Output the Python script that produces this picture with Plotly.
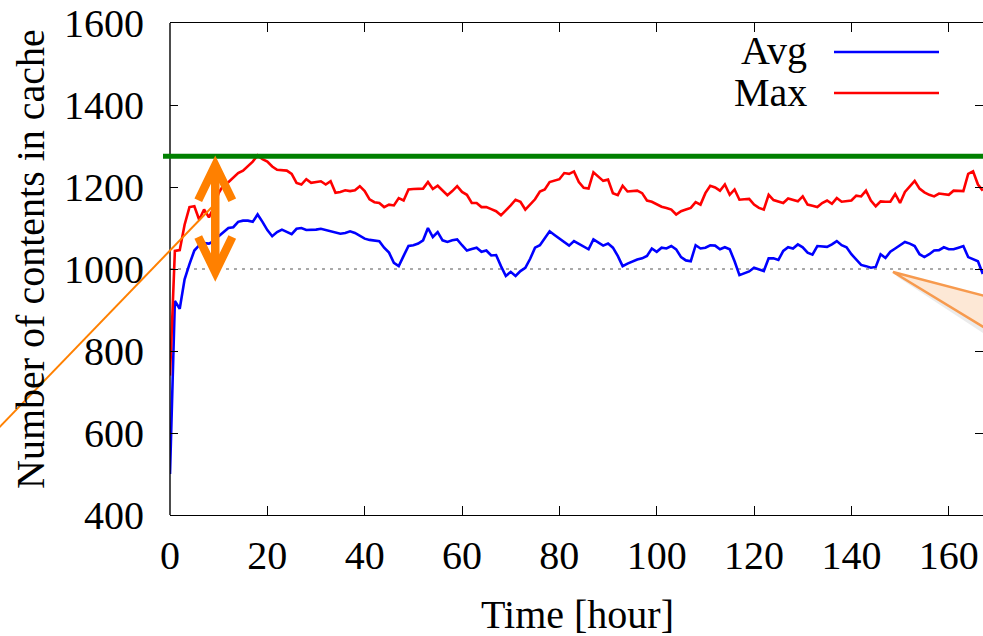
import plotly.graph_objects as go

# Hourly cache occupancy over one week
hours = list(range(168))

avg_contents = [
    500, 922, 903, 975, 1012, 1045, 1058, 1063, 1062, 1068,
    1080, 1090, 1100, 1102, 1115, 1118, 1118, 1115, 1133, 1115,
    1095, 1080, 1090, 1096, 1090, 1085, 1098, 1100, 1095, 1095,
    1096, 1098, 1095, 1092, 1088, 1086, 1088, 1092, 1088, 1082,
    1074, 1071, 1070, 1068, 1052, 1040, 1015, 1007, 1032, 1056,
    1058, 1062, 1070, 1100, 1078, 1090, 1070, 1066, 1070, 1072,
    1058, 1045, 1049, 1052, 1042, 1045, 1033, 1034, 1007, 983,
    993, 983, 995, 1003, 1025, 1052, 1058, 1076, 1092, 1083,
    1074, 1064, 1057, 1068, 1062, 1055, 1048, 1072, 1064, 1057,
    1062, 1052, 1032, 1007, 1013, 1018, 1023, 1026, 1032, 1050,
    1042, 1052, 1050, 1056, 1048, 1029, 1021, 1019, 1058, 1050,
    1052, 1058, 1057, 1048, 1053, 1048, 1019, 985, 989, 994,
    1003, 999, 995, 1026, 1026, 1022, 1044, 1053, 1050, 1060,
    1053, 1040, 1035, 1056, 1055, 1054, 1060, 1068, 1058, 1053,
    1036, 1023, 1010, 1007, 1003, 1005, 1036, 1027, 1042, 1050,
    1058, 1066, 1062, 1056, 1036, 1029, 1036, 1045, 1046, 1053,
    1048, 1048, 1052, 1056, 1029, 1023, 1019, 988,
]

max_contents = [
    740, 1044, 1046, 1108, 1151, 1153, 1120, 1145, 1126, 1150,
    1185, 1205, 1212, 1222, 1234, 1240, 1250, 1262, 1277, 1268,
    1262, 1250, 1242, 1241, 1240, 1232, 1210, 1206, 1219, 1210,
    1212, 1214, 1206, 1214, 1186, 1188, 1192, 1190, 1192, 1202,
    1190, 1170, 1163, 1161, 1151, 1157, 1155, 1173, 1167, 1194,
    1195, 1195, 1196, 1212, 1195, 1203, 1192, 1180, 1190, 1202,
    1188, 1181, 1161, 1161, 1151, 1151, 1146, 1141, 1131, 1142,
    1155, 1169, 1164, 1145, 1158, 1170, 1189, 1194, 1212, 1216,
    1219, 1234, 1232, 1238, 1212, 1198, 1196, 1236, 1226, 1215,
    1218, 1185, 1180, 1203, 1189, 1190, 1191, 1185, 1167, 1164,
    1158, 1152, 1149, 1145, 1133, 1141, 1145, 1149, 1163, 1157,
    1185, 1203, 1199, 1191, 1206, 1181, 1194, 1169, 1170, 1171,
    1157, 1149, 1145, 1181, 1168, 1164, 1161, 1172, 1168, 1165,
    1177, 1157, 1154, 1151, 1161, 1167, 1159, 1173, 1164, 1165,
    1167, 1179, 1177, 1191, 1167, 1153, 1165, 1164, 1164, 1183,
    1161, 1188, 1202, 1215, 1196, 1187, 1181, 1177, 1184, 1182,
    1181, 1191, 1190, 1190, 1232, 1238, 1206, 1191,
]

x_ticks = [0, 20, 40, 60, 80, 100, 120, 140, 160]
y_ticks = [400, 600, 800, 1000, 1200, 1400, 1600]

capacity = 1000      # cache size (dotted reference)
peak_level = 1275    # highest occupancy (green reference)

X_RANGE = [0, 167.04]
Y_RANGE = [400, 1600]

W, H = 983, 636
M_L, M_R, M_T, M_B = 170, 0, 23, 121
PW = W - M_L - M_R
PH = H - M_T - M_B

FONT = "Liberation Serif, Times New Roman, serif"
FS = 40
ORANGE = "#ff8000"
LW = 2.6


def px_x(px):
    """Pixel column -> paper x."""
    return (px - M_L) / PW


def px_y(py):
    """Pixel row -> paper y."""
    return (H - M_B - py) / PH


def val_y(v):
    """Data value -> paper y."""
    return (v - Y_RANGE[0]) / (Y_RANGE[1] - Y_RANGE[0])


def hour_px(h):
    return h * PW / (X_RANGE[1] - X_RANGE[0])


def val_px(v):
    return v * PH / (Y_RANGE[1] - Y_RANGE[0])


fig = go.Figure()

fig.add_trace(go.Scatter(x=hours, y=avg_contents, mode="lines", name="Avg",
                         line=dict(color="#0000ff", width=LW), showlegend=False))
fig.add_trace(go.Scatter(x=hours, y=max_contents, mode="lines", name="Max",
                         line=dict(color="#ff0000", width=LW), showlegend=False))

shapes = []

# left border (the y axis line itself is hidden so that only mirrored ticks show on the right)
shapes.append(dict(type="line", xref="paper", yref="paper", x0=0, x1=0, y0=0, y1=1,
                   line=dict(color="black", width=1.4), layer="above"))

# cache capacity reference
shapes.append(dict(type="line", xref="paper", yref="y", x0=0, x1=1,
                   y0=capacity, y1=capacity,
                   line=dict(color="#555555", width=1, dash="3px,5px"), layer="below"))

# peak level reference, running slightly past the left axis
shapes.append(dict(type="line", xref="paper", yref="paper", x0=px_x(163), x1=1.0,
                   y0=val_y(peak_level), y1=val_y(peak_level),
                   line=dict(color="#008000", width=5), layer="above"))

# thin orange leader line
shapes.append(dict(type="line", xref="paper", yref="paper",
                   x0=px_x(-10), y0=px_y(437), x1=px_x(212), y1=px_y(207),
                   line=dict(color=ORANGE, width=2), layer="above"))

# double-headed arrow between capacity and peak
arrow_h = 9.3
dx_h = 17 / hour_px(1)
dy_v = 35 / val_px(1)
inset = 9 / val_px(1)
top_v = peak_level - inset
bot_v = capacity - 12 / val_px(1) + inset
arrow_line = dict(color=ORANGE, width=8.5)
shapes.append(dict(type="line", xref="x", yref="y", x0=arrow_h, x1=arrow_h,
                   y0=bot_v, y1=top_v, line=arrow_line, layer="above"))
shapes.append(dict(type="path", xref="x", yref="y",
                   path=(f"M {arrow_h - dx_h},{top_v - dy_v} L {arrow_h},{top_v} "
                         f"L {arrow_h + dx_h},{top_v - dy_v}"),
                   line=arrow_line, layer="above"))
shapes.append(dict(type="path", xref="x", yref="y",
                   path=(f"M {arrow_h - dx_h},{bot_v + dy_v} L {arrow_h},{bot_v} "
                         f"L {arrow_h + dx_h},{bot_v + dy_v}"),
                   line=arrow_line, layer="above"))

# callout wedge toward the dip near hour 148
tip = (893, 272)
shadow = [(tip[0] + 3, tip[1] + 4), (1000, 314), (1000, 344)]
shapes.append(dict(type="path", xref="paper", yref="paper",
                   path="M " + " L ".join(f"{px_x(a)},{px_y(b)}" for a, b in shadow) + " Z",
                   fillcolor="rgba(120,120,120,0.15)", line=dict(width=0), layer="above"))
wedge = [tip, (1000, 300), (1000, 337)]
shapes.append(dict(type="path", xref="paper", yref="paper",
                   path="M " + " L ".join(f"{px_x(a)},{px_y(b)}" for a, b in wedge) + " Z",
                   fillcolor="#fde8d6", line=dict(color="#f79a4e", width=2.5), layer="above"))

# key: label on the left, line sample on the right
annotations = []
for label, color, py in [("Avg", "#0000ff", 52), ("Max", "#ff0000", 93)]:
    annotations.append(dict(text=label, xref="paper", yref="paper", x=px_x(809), y=px_y(py - 1),
                            xanchor="right", yanchor="middle", showarrow=False,
                            font=dict(family=FONT, size=FS, color="black")))
    shapes.append(dict(type="line", xref="paper", yref="paper",
                       x0=px_x(834), x1=px_x(939), y0=px_y(py), y1=px_y(py),
                       line=dict(color=color, width=LW), layer="above"))

# axis titles
annotations.append(dict(text="Time [hour]", xref="paper", yref="paper",
                        x=px_x(577), y=px_y(614), xanchor="center", yanchor="middle",
                        showarrow=False, font=dict(family=FONT, size=FS, color="black")))
annotations.append(dict(text="Number of contents in cache", xref="paper", yref="paper",
                        x=px_x(30), y=px_y(259), xanchor="center", yanchor="middle",
                        textangle=-90, showarrow=False,
                        font=dict(family=FONT, size=FS, color="black")))

fig.update_layout(
    width=W, height=H,
    margin=dict(l=M_L, r=M_R, t=M_T, b=M_B, pad=0),
    paper_bgcolor="white", plot_bgcolor="white",
    font=dict(family=FONT, size=FS, color="black"),
    shapes=shapes, annotations=annotations,
    showlegend=False,
)

fig.update_xaxes(
    range=X_RANGE, tickvals=x_ticks, ticktext=[str(v) for v in x_ticks],
    ticks="inside", ticklen=9, tickwidth=1.4, tickcolor="black",
    showline=True, linecolor="black", linewidth=1.4, mirror="ticks",
    showgrid=False, zeroline=False, ticklabelstandoff=5,
    tickfont=dict(family=FONT, size=FS, color="black"),
)
fig.update_yaxes(
    range=Y_RANGE, tickvals=y_ticks, ticktext=[str(v) for v in y_ticks],
    ticks="inside", ticklen=8, tickwidth=1.4, tickcolor="black",
    showline=False, mirror="ticks",
    showgrid=False, zeroline=False, ticklabelstandoff=25,
    tickfont=dict(family=FONT, size=FS, color="black"),
)

fig.write_html("out.html")
